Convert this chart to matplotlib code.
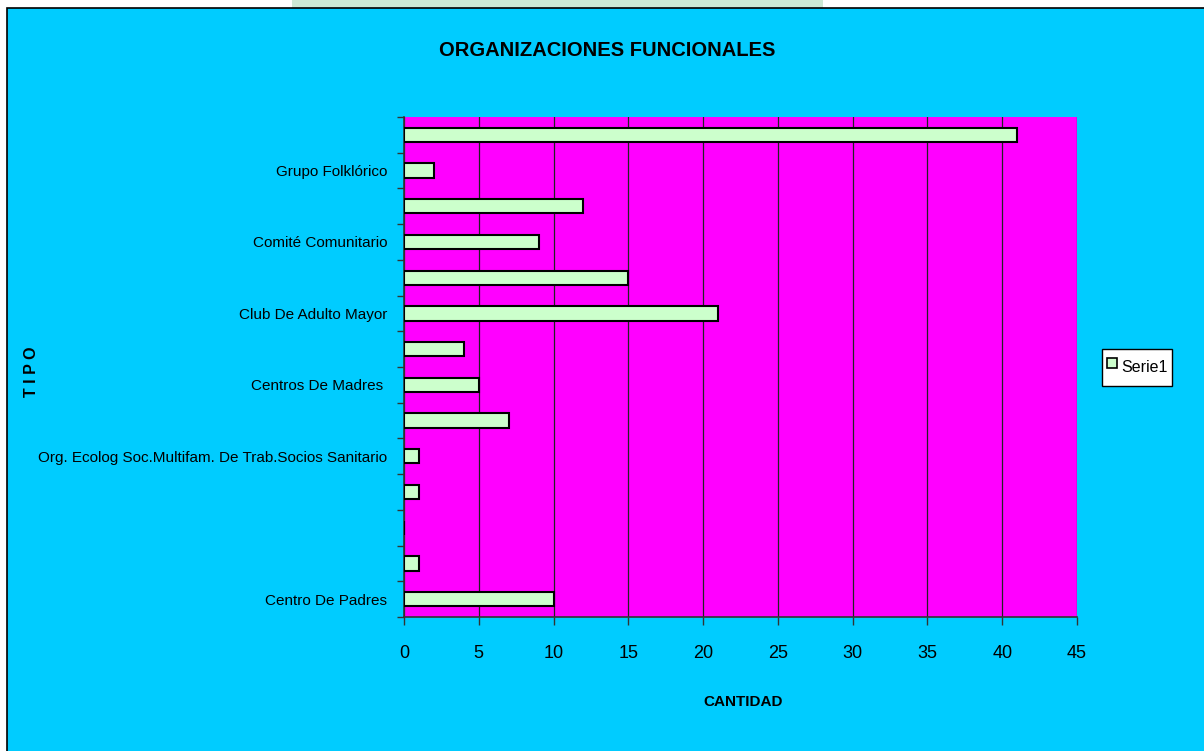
import matplotlib.pyplot as plt
from matplotlib.patches import Rectangle
from matplotlib.lines import Line2D
import numpy as np

# Organizaciones funcionales, bottom to top (only every other label is shown)
tipos = [
    "Centro De Padres", "", "", "",
    "Org. Ecolog Soc.Multifam. De Trab.Socios Sanitario", "",
    "Centros De Madres ", "", "Club De Adulto Mayor", "",
    "Comité Comunitario", "", "Grupo Folklórico", "",
]
cantidad = [10, 1, 0, 1, 1, 7, 5, 4, 21, 15, 9, 12, 2, 41]
x_ticks = [0, 5, 10, 15, 20, 25, 30, 35, 40, 45]

plt.rcParams["font.family"] = ["Liberation Sans", "DejaVu Sans"]

BAR_COLOR = "#ccffcc"

W, H = 1204, 751
fig = plt.figure(figsize=(W / 100, H / 100), dpi=100)
fig.patch.set_facecolor("white")

# chart area frame + the pale strip above it
fig.patches.append(Rectangle((292 / W, 743 / H), (823 - 292) / W, 8 / H,
                             transform=fig.transFigure, facecolor="#cce8d4",
                             edgecolor="none", zorder=-10))
fig.patches.append(Rectangle((7 / W, -0.01), 1.02 - 7 / W, 1.01 - 8 / H,
                             transform=fig.transFigure, facecolor="#00ccff",
                             edgecolor="black", linewidth=1.2, zorder=-10))

ax = fig.add_axes([404 / W, 1 - 617 / H, 673 / W, 500 / H])
ax.set_facecolor("#ff00ff")

pos = np.arange(len(cantidad))
ax.barh(pos, cantidad, height=0.4, color=BAR_COLOR, edgecolor="black",
        linewidth=1.5, zorder=3)

ax.set_xlim(0, 45)
ax.set_ylim(-0.5, len(cantidad) - 0.5)
ax.set_xticks(x_ticks)
ax.set_xticklabels([str(v) for v in x_ticks], fontsize=13)
ax.xaxis.grid(True, color="#222222", linewidth=0.9, zorder=1)
ax.tick_params(axis="x", direction="out", length=6, width=1, color="#333333", pad=14)

ax.set_yticks(pos)
ax.set_yticklabels(tipos, fontsize=11)
ax.set_yticks(np.arange(len(cantidad) + 1) - 0.5, minor=True)
ax.tick_params(axis="y", which="major", length=0, pad=12)
ax.tick_params(axis="y", which="minor", direction="out", length=5, width=1, color="#333333")

for side in ["top", "right"]:
    ax.spines[side].set_visible(False)
for side in ["left", "bottom"]:
    ax.spines[side].set_color("#333333")
    ax.spines[side].set_linewidth(1.2)

fig.text(607 / W, 1 - 50 / H, "ORGANIZACIONES FUNCIONALES", ha="center",
         va="center", fontsize=14.5, fontweight="bold")
fig.text(743 / W, 1 - 702 / H, "CANTIDAD", ha="center", va="center",
         fontsize=11, fontweight="bold")
fig.text(31 / W, 1 - 372 / H, "T I P O", ha="center", va="center",
         rotation=90, fontsize=11.5, fontweight="bold")

handle = Line2D([], [], marker="s", linestyle="none", markersize=7,
                markerfacecolor=BAR_COLOR, markeredgecolor="black",
                markeredgewidth=1.2)
leg = fig.legend([handle], ["Serie1"], loc="center left",
                 bbox_to_anchor=(1102 / W, 1 - 367.5 / H),
                 fontsize=11.5, frameon=True, fancybox=False,
                 edgecolor="black", facecolor="white", framealpha=1,
                 handlelength=0.6, handleheight=2.2, handletextpad=0.3,
                 borderpad=0.3, borderaxespad=0)
leg.get_frame().set_linewidth(1)

fig.savefig("out.png", dpi=100, facecolor=fig.get_facecolor())
